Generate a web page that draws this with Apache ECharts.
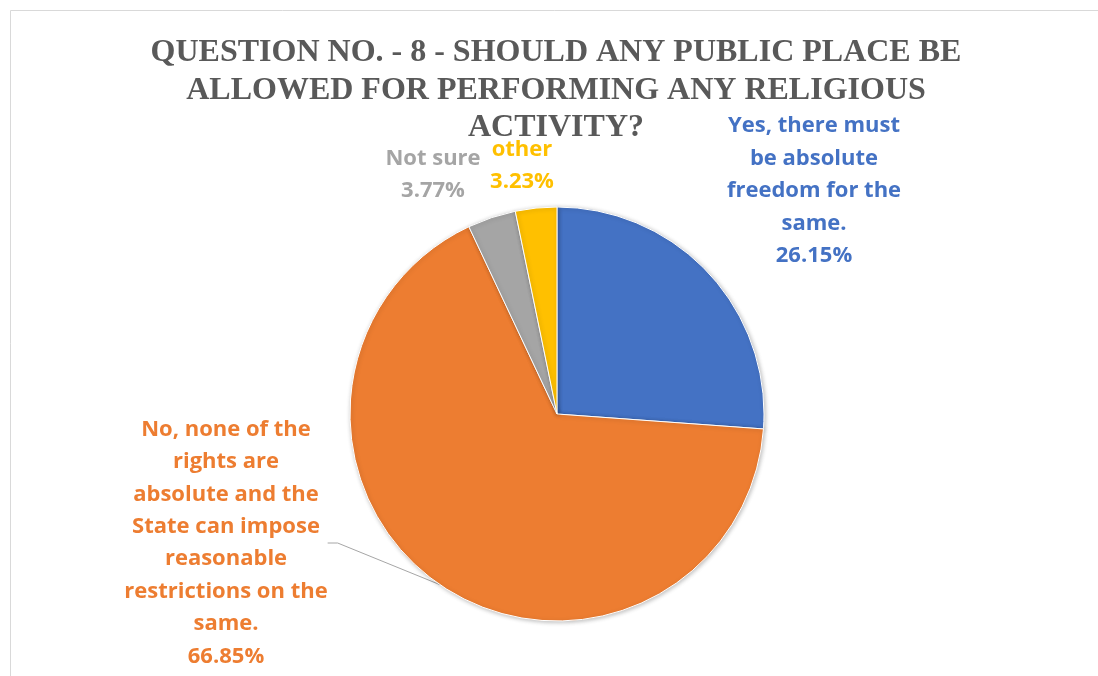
<!DOCTYPE html>
<html>
<head>
<meta charset="utf-8">
<script src="https://cdn.jsdelivr.net/npm/echarts@6/dist/echarts.min.js"></script>
<style>
  html, body { margin: 0; padding: 0; background: #fff; }
  #chart { width: 1098px; height: 676px; }
</style>
</head>
<body>
<div id="chart"></div>
<script>
// Survey answers (label text wrapped as it is shown beside each slice)
const categories = [
  'Yes, there must\nbe absolute\nfreedom for the\nsame.',
  'No, none of the\nrights are\nabsolute and the\nState can impose\nreasonable\nrestrictions on the\nsame.',
  'Not sure',
  'other'
];
const shares = [26.15, 66.85, 3.77, 3.23];
const sliceColors = ['#4472C4', '#ED7D31', '#A5A5A5', '#FFC000'];

const titleText = 'QUESTION NO. - 8 - SHOULD ANY PUBLIC PLACE BE\nALLOWED FOR PERFORMING ANY RELIGIOUS\nACTIVITY?';

// Where each label block is centred
const labelSpots = [
  { x: 814, y: 191 },
  { x: 226, y: 543 },
  { x: 433, y: 175 },
  { x: 522, y: 166 }
];

const chart = echarts.init(document.getElementById('chart'), null, { renderer: 'canvas' });

chart.setOption({
  backgroundColor: '#ffffff',
  animation: false,
  title: {
    text: titleText,
    left: 551,
    top: 29,
    textAlign: 'center',
    textStyle: {
      fontFamily: '"Liberation Serif", "Times New Roman", serif',
      fontWeight: 'bold',
      fontSize: 32,
      lineHeight: 37.5,
      color: '#595959'
    }
  },
  graphic: [{
    type: 'rect',
    silent: true,
    shape: { x: 10.5, y: 10.5, width: 1200, height: 800 },
    style: { fill: 'none', stroke: '#d9d9d9', lineWidth: 1 }
  }],
  series: [{
    type: 'pie',
    center: [557, 414],
    radius: [0, 207],
    startAngle: 90,
    clockwise: true,
    itemStyle: {
      borderColor: '#ffffff',
      borderWidth: 1,
      shadowBlur: 4,
      shadowColor: 'rgba(0,0,0,0.25)',
      shadowOffsetX: 1,
      shadowOffsetY: 1
    },
    label: {
      show: true,
      position: 'outside',
      fontFamily: '"Open Sans", Lato, sans-serif',
      fontWeight: 'bold',
      fontSize: 22,
      lineHeight: 32.4,
      align: 'center',
      formatter: p => p.name + '\n' + p.value.toFixed(2) + '%'
    },
    labelLine: {
      show: false,
      length: 10,
      length2: 10,
      lineStyle: { color: '#A6A6A6', width: 1 }
    },
    labelLayout: function (params) {
      const s = labelSpots[params.dataIndex];
      return { x: s.x, y: s.y, align: 'center', verticalAlign: 'middle' };
    },
    data: categories.map((name, i) => ({
      name: name,
      value: shares[i],
      itemStyle: { color: sliceColors[i] },
      label: { color: sliceColors[i] },
      labelLine: { show: i === 1 }
    }))
  }]
});
</script>
</body>
</html>
